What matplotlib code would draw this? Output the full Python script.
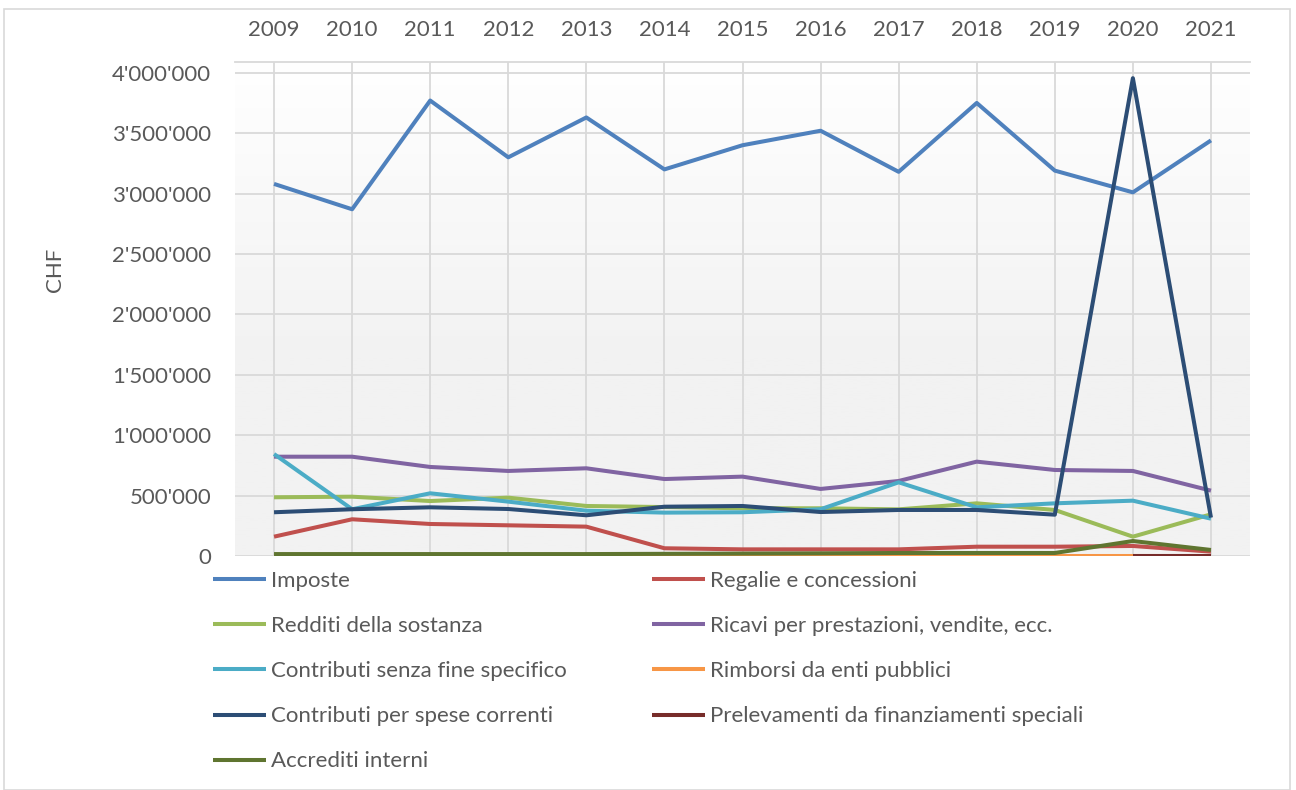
import numpy as np
import matplotlib
matplotlib.use("agg")
import matplotlib.pyplot as plt
from matplotlib.ticker import FuncFormatter, MultipleLocator
from matplotlib.patches import Rectangle

years = [2009, 2010, 2011, 2012, 2013, 2014, 2015, 2016, 2017, 2018, 2019, 2020, 2021]

imposte = [3080000, 2870000, 3770000, 3300000, 3630000, 3200000, 3400000,
           3520000, 3180000, 3750000, 3190000, 3010000, 3440000]
regalie = [160000, 304000, 265000, 254000, 243000, 64000, 55000,
           55000, 55000, 77000, 77000, 83000, 36000]
redditi = [486000, 491000, 455000, 483000, 414000, 405000, 395000,
           395000, 386000, 436000, 381000, 160000, 345000]
ricavi = [822000, 822000, 737000, 704000, 726000, 637000, 657000,
          555000, 621000, 781000, 712000, 704000, 541000]
contr_senza = [844000, 387000, 519000, 450000, 375000, 359000, 362000,
               387000, 610000, 403000, 436000, 458000, 309000]
rimborsi = [2000, 2000, 2000, 2000, 2000, 2000, 2000,
            2000, 2000, 2000, 2000, 2000, 2000]
contr_spese = [362000, 387000, 403000, 389000, 337000, 408000, 414000,
               364000, 381000, 381000, 342000, 3955000, 318000]
prelevamenti = [np.nan] * 11 + [1000, 1000]
accrediti = [16000, 16000, 16000, 16000, 16000, 18000, 20000,
             22000, 25000, 25000, 25000, 124000, 50000]

labels = ["Imposte", "Regalie e concessioni", "Redditi della sostanza",
          "Ricavi per prestazioni, vendite, ecc.", "Contributi senza fine specifico",
          "Rimborsi da enti pubblici", "Contributi per spese correnti",
          "Prelevamenti da finanziamenti speciali", "Accrediti interni"]
series = [imposte, regalie, redditi, ricavi, contr_senza, rimborsi,
          contr_spese, prelevamenti, accrediti]
colors = ["#4f81bd", "#c0504d", "#9bbb59", "#8064a2", "#4bacc6",
          "#f79646", "#2c4d75", "#772c2a", "#5f7530"]

text_color = "#595959"
fs = 16
plt.rcParams['font.family'] = ['Lato', 'DejaVu Sans']

W, H = 1296, 790
fig = plt.figure(figsize=(W / 100, H / 100), dpi=100)
fig.patches.append(Rectangle((4 / W, 0), (1290 - 4) / W, (H - 9) / H,
                             transform=fig.transFigure, fill=False,
                             edgecolor="#d9d9d9", linewidth=1.2))

ax = fig.add_axes([235 / W, (H - 556) / H, (1250 - 235) / W, (556 - 62) / H])

# background gradient: white at top, light gray towards the bottom
t = np.linspace(0, 1, 256)
shade = np.clip(t / 0.6, 0, 1)
top = np.array([1.0, 1.0, 1.0])
bot = np.array([0xf2, 0xf2, 0xf2]) / 255
grad = top[None, :] * (1 - shade[:, None]) + bot[None, :] * shade[:, None]
ax.imshow(grad[:, None, :], extent=[0, 1, 0, 1], transform=ax.transAxes,
          aspect="auto", zorder=0)

x = np.arange(len(years))
lines = []
for vals, lab, col in zip(series, labels, colors):
    ln, = ax.plot(x, vals, color=col, lw=2.9, label=lab, zorder=3,
                  solid_capstyle="butt", solid_joinstyle="round")
    lines.append(ln)

ax.set_xlim(-0.5, len(years) - 0.5)
ax.set_ylim(0, 4089000)
ax.set_xticks(x)
ax.set_xticklabels([str(y) for y in years])
ax.xaxis.tick_top()
ax.yaxis.set_major_locator(MultipleLocator(500000))
ax.yaxis.set_major_formatter(FuncFormatter(lambda v, p: f"{int(v):,}".replace(",", "'")))
ax.tick_params(axis="both", length=0, labelsize=fs, labelcolor=text_color)
ax.tick_params(axis="x", pad=16)
ax.tick_params(axis="y", pad=17)
ax.grid(True, color="#d9d9d9", linewidth=1.3, zorder=1)
ax.set_axisbelow(True)
for side in ["left", "right", "bottom"]:
    ax.spines[side].set_visible(False)
ax.spines["top"].set_color("#d9d9d9")
ax.spines["top"].set_linewidth(1.3)

fig.text(55 / W, 1 - 270 / H, "CHF", rotation=90, ha="center", va="center",
         fontsize=fs, color=text_color)

leg_kw = dict(loc="upper left", frameon=False, fontsize=fs, handlelength=2.4,
              handletextpad=0.2, labelspacing=1.13, borderpad=0, borderaxespad=0,
              labelcolor=text_color)
leg1 = fig.legend([lines[i] for i in (0, 2, 4, 6, 8)],
                  [labels[i] for i in (0, 2, 4, 6, 8)],
                  bbox_to_anchor=(213 / W, 1 - 571 / H), **leg_kw)
leg2 = fig.legend([lines[i] for i in (1, 3, 5, 7)],
                  [labels[i] for i in (1, 3, 5, 7)],
                  bbox_to_anchor=(652 / W, 1 - 571 / H), **leg_kw)

fig.savefig("out.png", dpi=100)
